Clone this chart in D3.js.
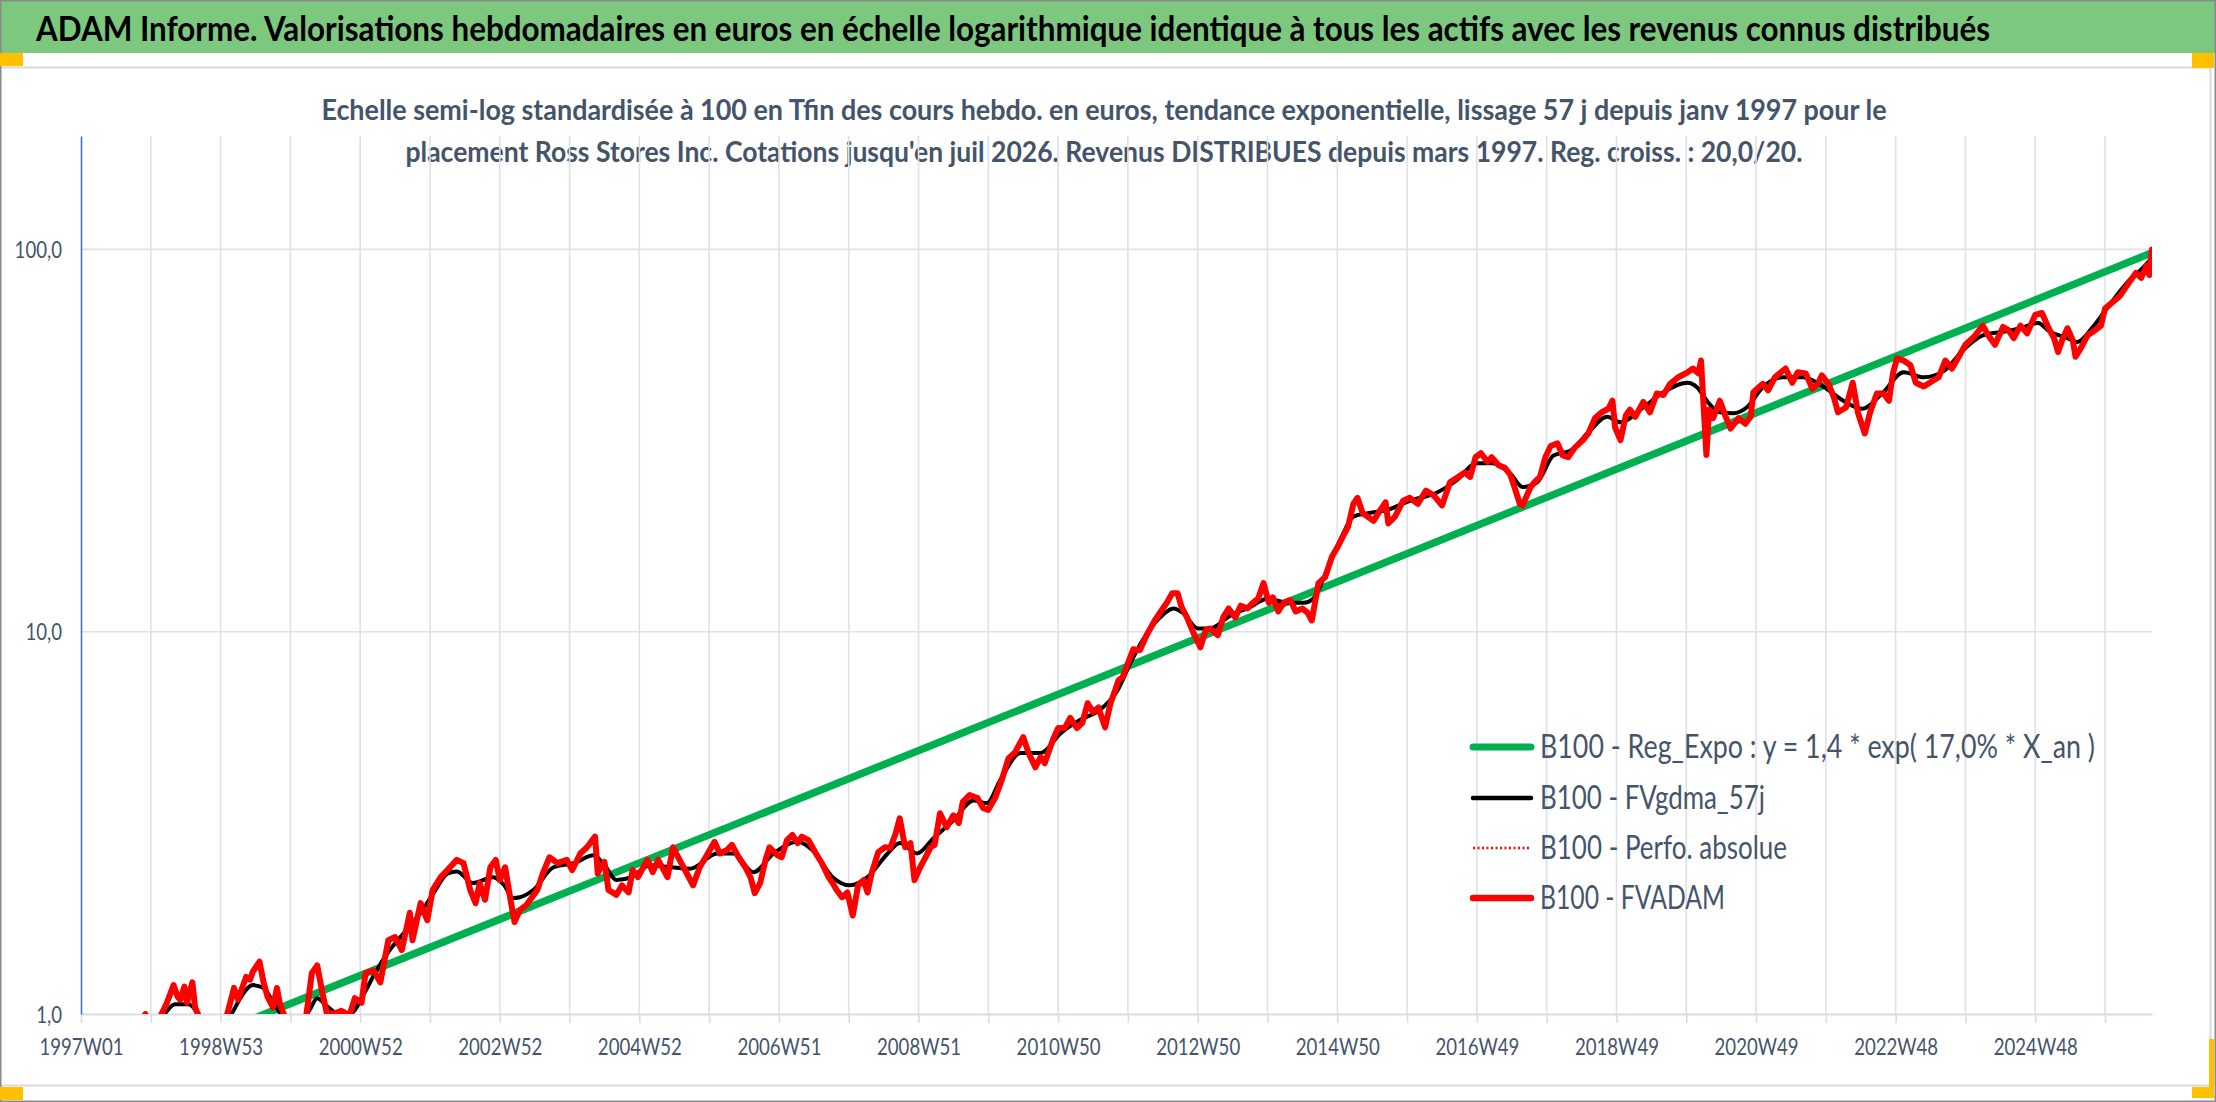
<!DOCTYPE html>
<html><head><meta charset="utf-8">
<script src="https://cdn.jsdelivr.net/npm/d3@7"></script>
<style>html,body{margin:0;padding:0;background:#fff;overflow:hidden} svg{display:block}</style>
</head><body><svg id="c" width="2216" height="1102"></svg>
<script>
// ---------------- DATA ----------------
const titleText = "ADAM Informe. Valorisations hebdomadaires en euros en échelle logarithmique identique à tous les actifs avec les revenus connus distribués";
const subtitleLines = [
  "Echelle semi-log standardisée à 100 en Tfin des cours hebdo. en euros, tendance exponentielle, lissage 57 j depuis janv 1997 pour le",
  "placement Ross Stores Inc. Cotations jusqu'en juil 2026. Revenus DISTRIBUES depuis mars 1997. Reg. croiss. : 20,0/20."
];
const tickLabels = ["1997W01","1998W53","2000W52","2002W52","2004W52","2006W51","2008W51","2010W50","2012W50","2014W50","2016W49","2018W49","2020W49","2022W48","2024W48"];
const weeksPerTick = 52;
const tickCount = 30;
const lastWeek = 1543;
const yTickValues = [1, 10, 100];
const yTickLabels = ["1,0", "10,0", "100,0"];
const yMax = 198;
const legendLabels = [
  "B100 - Reg_Expo : y = 1,4 * exp( 17,0% *  X_an )",
  "B100 - FVgdma_57j",
  "B100 - Perfo. absolue",
  "B100 - FVADAM"
];
// [week index, value]
const regExpo = [[0,0.64],[387,2.26],[774,7.96],[1154,27.5],[1543,98]];
const fvgdma = [[0,0.82],[50,0.92],[62,1.0],[70,1.06],[80,1.06],[90,0.98],[100,0.93],[112,1.0],[120,1.12],[128,1.19],[136,1.17],[144,1.06],[152,0.97],[162,0.94],[170,1.02],[176,1.10],[183,1.05],[192,1.0],[200,1.0],[212,1.15],[218,1.26],[230,1.47],[242,1.65],[253,1.84],[263,2.08],[273,2.33],[280,2.36],[292,2.20],[307,2.28],[315,2.18],[322,2.01],[327,2.02],[337,2.11],[352,2.42],[367,2.48],[382,2.60],[390,2.45],[399,2.24],[410,2.28],[424,2.45],[440,2.42],[454,2.40],[474,2.63],[486,2.63],[501,2.35],[516,2.63],[534,2.82],[545,2.68],[560,2.28],[573,2.17],[586,2.28],[601,2.63],[610,2.80],[623,2.63],[635,2.88],[650,3.21],[665,3.62],[675,3.56],[685,4.1],[700,4.82],[715,4.82],[730,5.43],[744,5.87],[759,6.24],[772,7.0],[782,8.3],[791,9.5],[804,10.9],[814,11.5],[821,11.2],[832,10.2],[841,10.2],[856,11.0],[871,11.6],[884,12.2],[899,11.9],[911,11.9],[918,12.2],[929,14.7],[938,17.3],[948,20.0],[958,20.4],[973,20.8],[990,22.0],[1010,23.1],[1025,24.9],[1040,27.6],[1052,27.6],[1065,25.9],[1074,23.9],[1085,24.6],[1097,28.9],[1110,29.8],[1124,33.5],[1137,36.5],[1147,35.3],[1164,38.6],[1179,42.3],[1197,44.8],[1204,43.6],[1212,39.9],[1221,37.5],[1231,37.3],[1241,38.6],[1253,43.6],[1268,46.3],[1283,46.3],[1298,43.8],[1313,40.2],[1327,38.3],[1342,42.0],[1358,47.7],[1373,46.3],[1388,48.1],[1402,54.4],[1417,59.6],[1432,60.9],[1445,62.2],[1458,64.2],[1467,60.9],[1480,58.6],[1487,57.2],[1499,62.7],[1510,70.6],[1526,83.0],[1536,89.3],[1543,95]];
const fvadam = [[0,0.80],[29,0.86],[44,0.95],[48,1.0],[53,0.9],[60,1.0],[64,1.07],[69,1.19],[72,1.11],[74,1.09],[77,1.18],[79,1.07],[83,1.21],[85,1.04],[87,1.0],[92,0.9],[100,0.88],[109,1.0],[114,1.17],[117,1.09],[123,1.25],[126,1.23],[128,1.29],[133,1.37],[136,1.21],[139,1.11],[143,1.04],[146,1.17],[148,1.07],[151,1.0],[157,0.92],[165,0.95],[168,1.0],[172,1.28],[176,1.34],[180,1.13],[183,1.01],[188,1.0],[194,1.02],[200,0.99],[204,1.10],[209,1.07],[212,1.28],[218,1.30],[223,1.21],[229,1.56],[234,1.59],[239,1.47],[245,1.84],[247,1.56],[253,1.95],[258,1.76],[262,2.11],[268,2.28],[273,2.38],[280,2.53],[285,2.48],[290,2.11],[294,1.95],[297,2.20],[301,1.99],[305,2.42],[309,2.53],[312,2.24],[316,2.42],[320,1.99],[323,1.74],[327,1.87],[332,1.93],[340,2.11],[344,2.33],[349,2.57],[355,2.48],[362,2.53],[366,2.38],[372,2.63],[377,2.73],[383,2.91],[385,2.33],[387,2.42],[390,2.50],[393,2.11],[399,2.05],[403,2.17],[408,2.08],[411,2.38],[415,2.28],[422,2.53],[426,2.35],[430,2.53],[437,2.28],[441,2.73],[446,2.53],[452,2.31],[456,2.17],[461,2.42],[467,2.63],[472,2.82],[476,2.63],[481,2.68],[485,2.77],[490,2.57],[495,2.42],[499,2.27],[502,2.07],[506,2.20],[510,2.53],[513,2.73],[519,2.60],[522,2.57],[526,2.85],[530,2.94],[534,2.80],[537,2.91],[542,2.85],[547,2.65],[552,2.48],[557,2.28],[560,2.20],[563,2.11],[567,2.02],[571,2.08],[575,1.81],[579,2.17],[583,2.24],[586,2.08],[589,2.33],[594,2.65],[599,2.73],[603,2.72],[607,2.97],[610,3.25],[614,2.73],[618,2.80],[621,2.24],[625,2.41],[629,2.56],[633,2.73],[636,2.77],[640,3.35],[645,3.08],[650,3.31],[654,3.16],[657,3.59],[662,3.74],[668,3.67],[672,3.46],[676,3.42],[681,3.67],[686,4.09],[691,4.66],[696,4.84],[702,5.30],[706,4.82],[711,4.42],[715,4.70],[718,4.53],[724,5.20],[728,5.60],[733,5.60],[737,5.95],[742,5.60],[746,5.77],[750,6.50],[754,6.16],[758,6.34],[763,5.62],[767,6.50],[770,6.95],[773,7.47],[776,7.6],[784,9.0],[789,8.95],[794,9.8],[800,10.7],[806,11.5],[809,11.9],[813,12.6],[817,12.6],[820,11.6],[824,10.9],[829,9.9],[834,9.1],[838,10.1],[841,10.2],[847,9.8],[851,10.9],[855,11.5],[860,10.9],[864,11.7],[869,11.5],[873,11.9],[877,12.2],[881,13.4],[885,11.9],[888,12.3],[892,11.3],[896,11.9],[901,12.1],[905,11.3],[910,11.5],[914,11.2],[917,10.7],[922,13.4],[927,13.9],[932,15.7],[936,16.6],[940,17.7],[944,18.8],[948,21.6],[951,22.4],[955,20.4],[963,19.5],[968,20.8],[972,21.8],[974,19.2],[979,20.0],[985,22.0],[990,22.4],[996,21.6],[1002,23.4],[1008,22.7],[1014,21.4],[1020,24.6],[1026,25.4],[1031,26.1],[1035,25.4],[1039,28.6],[1043,29.3],[1048,27.8],[1051,28.6],[1056,27.3],[1061,26.8],[1065,25.7],[1068,23.9],[1072,21.6],[1074,21.4],[1080,23.9],[1083,24.6],[1087,25.4],[1091,28.6],[1095,30.6],[1100,31.1],[1104,28.9],[1108,28.6],[1113,30.3],[1119,31.7],[1123,33.0],[1128,36.2],[1133,37.5],[1138,38.3],[1141,40.2],[1143,34.2],[1147,31.7],[1151,36.8],[1154,38.1],[1158,36.5],[1164,39.9],[1169,37.5],[1174,42.0],[1179,41.6],[1184,44.5],[1190,46.3],[1197,47.7],[1201,48.8],[1205,47.4],[1207,51.2],[1209,38.6],[1211,29.0],[1213,38.1],[1216,36.2],[1221,40.2],[1225,36.8],[1229,34.0],[1235,36.2],[1240,35.0],[1244,36.5],[1246,42.3],[1253,44.5],[1257,42.8],[1262,46.3],[1270,48.8],[1275,44.8],[1279,47.7],[1285,47.4],[1290,43.2],[1294,44.5],[1297,46.8],[1302,44.5],[1306,41.0],[1309,37.5],[1315,38.6],[1320,44.8],[1324,37.3],[1329,33.0],[1333,37.5],[1338,42.0],[1343,42.0],[1347,40.2],[1350,47.4],[1353,51.9],[1358,51.2],[1363,49.8],[1367,44.8],[1373,43.8],[1380,45.4],[1384,46.3],[1389,51.2],[1394,48.8],[1399,52.4],[1404,56.3],[1410,58.9],[1417,63.2],[1421,59.6],[1426,56.3],[1432,62.7],[1436,61.5],[1440,58.6],[1445,63.2],[1450,60.3],[1456,67.4],[1461,68.2],[1466,62.2],[1470,58.6],[1473,53.9],[1476,57.8],[1480,62.2],[1484,57.8],[1486,52.4],[1490,55.2],[1495,59.6],[1499,60.9],[1505,63.2],[1508,70.0],[1514,73.0],[1519,75.5],[1526,82.0],[1531,86.8],[1535,84.3],[1539,90.7],[1541,85.7],[1543,100.0]];

// ---------------- LAYOUT ----------------
const W = 2216, H = 1102;
const P = {left: 81, right: 2152, top: 136, bottom: 1014};
const FONT = "Lato, 'Open Sans', 'Noto Sans', sans-serif";
const TXT = "#44546A";

const svg = d3.select("#c");
svg.append("rect").attr("width", W).attr("height", H).attr("fill", "#fff");

// title band
svg.append("rect").attr("x", 0).attr("y", 0).attr("width", W).attr("height", 53).attr("fill", "#7dc87f");
svg.append("text").attr("x", 36).attr("y", 41)
  .attr("font-family", FONT).attr("font-weight", 700).attr("font-size", 34).attr("fill", "#000")
  .attr("textLength", 1954).attr("lengthAdjust", "spacingAndGlyphs").text(titleText);

// chart area border
const bc = "#d9d9d9";
svg.append("path").attr("d", `M0,67.5H2210.5V1085.5H0`).attr("fill", "none").attr("stroke", bc).attr("stroke-width", 2);
// outer frame
svg.append("rect").attr("x", 0.75).attr("y", 0.75).attr("width", W - 1.5).attr("height", H - 1.5)
  .attr("fill", "none").attr("stroke", "#8a8a8a").attr("stroke-width", 1.5);
// handles
const OR = "#FFC000";
[[0,53,23,13],[0,1087,23,13],[2192,53,22,15],[2209,1039,5,59],[2192,1087,22,11]].forEach(r =>
  svg.append("rect").attr("x", r[0]).attr("y", r[1]).attr("width", r[2]).attr("height", r[3]).attr("fill", OR));

// subtitle
const subWidths = [1565, 1397];
subtitleLines.forEach((s, i) => {
  svg.append("text").attr("x", 1104).attr("y", 120 + i * 42).attr("text-anchor", "middle")
    .attr("font-family", FONT).attr("font-weight", 700).attr("font-size", 28).attr("fill", TXT)
    .attr("textLength", subWidths[i]).attr("lengthAdjust", "spacingAndGlyphs").text(s);
});

// scales
const x = d3.scaleLinear().domain([0, lastWeek]).range([P.left, P.right]);
const y = d3.scaleLog().domain([1, yMax]).range([P.bottom, P.top]);
const tickWeeks = d3.range(tickCount).map(i => i * weeksPerTick);

// gridlines
const grid = svg.append("g");
grid.selectAll("line.v").data(tickWeeks.slice(1)).join("line")
  .attr("x1", d => x(d)).attr("x2", d => x(d)).attr("y1", P.top).attr("y2", P.bottom)
  .attr("stroke", "#dde1e8").attr("stroke-width", 1.6);
grid.selectAll("line.h").data(yTickValues.slice(1)).join("line")
  .attr("x1", P.left).attr("x2", P.right).attr("y1", d => y(d)).attr("y2", d => y(d))
  .attr("stroke", "#dde1e8").attr("stroke-width", 1.6);

// x axis
const xAxis = d3.axisBottom(x).tickValues(tickWeeks)
  .tickFormat((d, i) => i % 2 === 0 ? (tickLabels[i / 2] || "") : "")
  .tickSize(9).tickSizeOuter(0);
const gx = svg.append("g").attr("transform", `translate(0,${P.bottom})`).call(xAxis);
gx.select(".domain").attr("stroke", "#d9dce2").attr("stroke-width", 1.8);
gx.selectAll(".tick line").attr("stroke", "#d9dce2").attr("stroke-width", 1.6);
gx.selectAll(".tick text").attr("y", 41).attr("dy", null)
  .attr("font-family", FONT).attr("font-size", 24).attr("fill", TXT);

// y axis
const yAxis = d3.axisLeft(y).tickValues(yTickValues).tickFormat((d, i) => yTickLabels[i])
  .tickSize(0).tickSizeOuter(0).tickPadding(19);
const gy = svg.append("g").attr("transform", `translate(${P.left},0)`).call(yAxis);
gy.select(".domain").attr("stroke", "#4472C4").attr("stroke-width", 1.6);
gy.selectAll(".tick text").attr("font-family", FONT).attr("font-size", 24).attr("fill", TXT).attr("dy", "0.34em");

// condense axis labels like the reference
const probe = svg.append("text").attr("font-family", FONT).attr("font-size", 24).text("1997W01");
const k = 84 / probe.node().getComputedTextLength();
probe.remove();
svg.selectAll(".tick text").each(function () {
  const t = d3.select(this);
  if (!t.text()) return;
  const L = this.getComputedTextLength();
  t.attr("textLength", L * k).attr("lengthAdjust", "spacingAndGlyphs");
});

// clip
svg.append("clipPath").attr("id", "pc").append("rect")
  .attr("x", P.left).attr("y", P.top).attr("width", P.right - P.left).attr("height", P.bottom - P.top);
const plot = svg.append("g").attr("clip-path", "url(#pc)");

const line = d3.line().x(d => x(d[0])).y(d => y(d[1]));
const smooth = d3.line().x(d => x(d[0])).y(d => y(d[1])).curve(d3.curveMonotoneX);

plot.append("path").datum(regExpo).attr("d", line).attr("fill", "none")
  .attr("stroke", "#00B050").attr("stroke-width", 7.5).attr("stroke-linecap", "round");
plot.append("path").datum(fvgdma).attr("d", smooth).attr("fill", "none")
  .attr("stroke", "#000").attr("stroke-width", 4).attr("stroke-linejoin", "round");
plot.append("path").datum(fvadam).attr("d", line).attr("fill", "none")
  .attr("stroke", "#FF0000").attr("stroke-width", 2).attr("stroke-dasharray", "2,3");
plot.append("path").datum(fvadam).attr("d", line).attr("fill", "none")
  .attr("stroke", "#FF0000").attr("stroke-width", 6).attr("stroke-linejoin", "round").attr("stroke-linecap", "round");

// legend
const legY = [747, 798, 848, 898];
const legW = [555, 225, 247, 185];
const legStyle = [
  {c: "#00B050", w: 7, dash: null},
  {c: "#000", w: 4.5, dash: null},
  {c: "#FF0000", w: 2.5, dash: "2,2.5"},
  {c: "#FF0000", w: 6.5, dash: null}
];
const lg = svg.append("g");
legendLabels.forEach((lab, i) => {
  const s = legStyle[i];
  lg.append("line").attr("x1", 1473).attr("x2", 1531).attr("y1", legY[i]).attr("y2", legY[i])
    .attr("stroke", s.c).attr("stroke-width", s.w)
    .attr("stroke-linecap", s.dash ? "butt" : "round").attr("stroke-dasharray", s.dash);
  lg.append("text").attr("x", 1540).attr("y", legY[i] + 11)
    .attr("font-family", FONT).attr("font-size", 32).attr("fill", TXT)
    .attr("textLength", legW[i]).attr("lengthAdjust", "spacingAndGlyphs").text(lab);
});
</script></body></html>
